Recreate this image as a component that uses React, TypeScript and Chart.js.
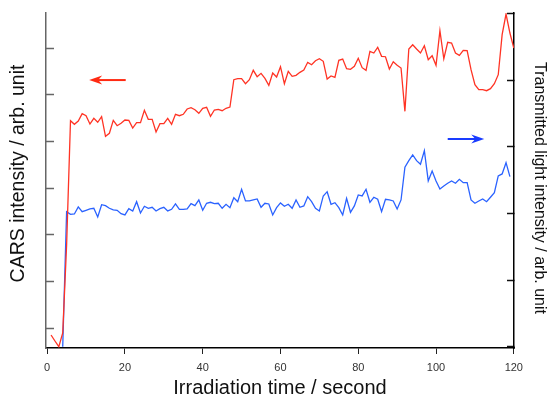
import { useEffect, useRef } from 'react';
import { Chart, registerables } from 'chart.js';

Chart.register(...registerables);

// Irradiation time (s)
const seconds = [
  1, 2, 3, 4, 5, 6, 7, 8, 9, 10, 11, 12, 13, 14, 15, 16, 17, 18, 19, 20,
  21, 22, 23, 24, 25, 26, 27, 28, 29, 30, 31, 32, 33, 34, 35, 36, 37, 38, 39, 40,
  41, 42, 43, 44, 45, 46, 47, 48, 49, 50, 51, 52, 53, 54, 55, 56, 57, 58, 59, 60,
  61, 62, 63, 64, 65, 66, 67, 68, 69, 70, 71, 72, 73, 74, 75, 76, 77, 78, 79, 80,
  81, 82, 83, 84, 85, 86, 87, 88, 89, 90, 91, 92, 93, 94, 95, 96, 97, 98, 99, 100,
  101, 102, 103, 104, 105, 106, 107, 108, 109, 110, 111, 112, 113, 114, 115, 116, 117, 118, 119, 120,
];

// CARS intensity (arb. unit, left axis)
const carsIntensity = [
  0.857, 0.729, 0.606, 0.9, 2.786, 5.449, 5.372, 5.442, 5.599, 5.556,
  5.378, 5.5, 5.415, 5.535, 5.115, 5.179, 5.457, 5.342, 5.393, 5.464,
  5.457, 5.292, 5.406, 5.406, 5.672, 5.479, 5.479, 5.207, 5.385, 5.385,
  5.5, 5.372, 5.586, 5.556, 5.586, 5.7, 5.727, 5.685, 5.608, 5.715,
  5.736, 5.543, 5.678, 5.693, 5.663, 5.715, 5.742, 6.327, 6.349, 6.349,
  6.242, 6.327, 6.529, 6.392, 6.464, 6.357, 6.207, 6.471, 6.385, 6.606,
  6.242, 6.507, 6.4, 6.422, 6.486, 6.535, 6.7, 6.649, 6.735, 6.777,
  6.722, 6.342, 6.407, 6.379, 6.743, 6.771, 6.563, 6.55, 6.614, 6.786,
  6.585, 6.529, 6.936, 6.9, 7.022, 6.829, 6.82, 6.557, 6.713, 6.636,
  6.578, 5.65, 6.985, 7.077, 6.985, 6.9, 7.056, 6.756, 6.842, 6.636,
  7.377, 6.777, 7.129, 7.114, 6.9, 6.85, 6.957, 6.949, 6.542, 6.22,
  6.113, 6.113, 6.092, 6.135, 6.242, 6.435, 7.292, 7.735, 7.328, 7.007,
];

// Transmitted light intensity (arb. unit, right axis)
const transmittedLight = [
  null, null, null, 0.0, 2.025, 1.986, 1.991, 2.096, 2.025, 2.046,
  2.066, 2.076, 1.946, 2.13, 2.115, 2.076, 2.051, 2.046, 1.995, 1.976,
  2.07, 2.036, 2.175, 2.006, 2.106, 2.076, 2.091, 2.036, 2.07, 2.091,
  2.036, 2.061, 2.141, 2.061, 2.061, 2.066, 2.145, 2.115, 2.201, 2.046,
  2.151, 2.166, 2.145, 2.151, 2.076, 2.136, 2.085, 2.235, 2.175, 2.361,
  2.186, 2.186, 2.201, 2.216, 2.091, 2.151, 2.141, 1.976, 2.085, 2.156,
  2.106, 2.136, 2.076, 2.201, 2.091, 2.111, 2.25, 2.175, 2.076, 2.036,
  2.261, 2.325, 2.136, 2.16, 2.085, 1.976, 2.226, 2.016, 2.111, 2.276,
  2.261, 2.361, 2.166, 2.241, 2.211, 2.025, 2.211, 2.201, 2.186, 2.066,
  2.201, 2.691, 2.79, 2.876, 2.79, 2.736, 2.94, 2.486, 2.636, 2.486,
  2.366, 2.411, 2.451, 2.486, 2.451, 2.511, 2.46, 2.46, 2.201, 2.151,
  2.186, 2.216, 2.175, 2.241, 2.31, 2.561, 2.591, 2.76, 2.55, null,
];

const xTicks = [0, 20, 40, 60, 80, 100, 120];
const leftTicks = [1, 2, 3, 4, 5, 6, 7];
const rightTicks = [0, 1, 2, 3, 4, 5];

const xTitle = 'Irradiation time / second';
const leftTitle = 'CARS intensity / arb. unit';
const rightTitle = 'Transmitted light intensity / arb. unit';

const RED = '#ff3324';
const BLUE = '#2a62ff';
const RED_ARROW = '#ff2a12';
const BLUE_ARROW = '#1a3cff';
const FONT = '"Liberation Sans", Arial, sans-serif';

// arrows: [tailTime, tipTime, value, axis]
const redArrow = { from: 20.2, to: 10.8, value: 6.32, axis: 'yL', color: RED_ARROW };
const blueArrow = { from: 103, to: 112.4, value: 3.115, axis: 'yR', color: BLUE_ARROW };

function drawArrow(ctx: CanvasRenderingContext2D, x1: number, x2: number, y: number, color: string) {
  const dir = Math.sign(x2 - x1);
  ctx.save();
  ctx.strokeStyle = color;
  ctx.fillStyle = color;
  ctx.lineWidth = 2;
  ctx.beginPath();
  ctx.moveTo(x1, y);
  ctx.lineTo(x2 - dir * 8, y);
  ctx.stroke();
  ctx.beginPath();
  ctx.moveTo(x2, y);
  ctx.lineTo(x2 - dir * 13, y - 4.5);
  ctx.lineTo(x2 - dir * 9, y);
  ctx.lineTo(x2 - dir * 13, y + 4.5);
  ctx.closePath();
  ctx.fill();
  ctx.restore();
}

const decorPlugin = {
  id: 'decor',
  afterDraw(chart: any) {
    const { ctx, chartArea: a, scales } = chart;
    for (const ar of [redArrow, blueArrow]) {
      const x1 = scales.x.getPixelForValue(ar.from);
      const x2 = scales.x.getPixelForValue(ar.to);
      const y = scales[ar.axis].getPixelForValue(ar.value);
      drawArrow(ctx, x1, x2, y, ar.color);
    }
    ctx.save();
    ctx.fillStyle = '#111';
    ctx.textAlign = 'center';
    ctx.textBaseline = 'alphabetic';
    ctx.font = `20px ${FONT}`;
    ctx.fillText(xTitle, (a.left + a.right) / 2, a.bottom + 46);
    ctx.restore();

    ctx.save();
    ctx.fillStyle = '#111';
    ctx.textAlign = 'center';
    ctx.textBaseline = 'alphabetic';
    ctx.font = `19.5px ${FONT}`;
    ctx.translate(a.left - 22, (a.top + a.bottom) / 2 - 7);
    ctx.rotate(-Math.PI / 2);
    ctx.fillText(leftTitle, 0, 0);
    ctx.restore();

    ctx.save();
    ctx.fillStyle = '#111';
    ctx.textAlign = 'center';
    ctx.textBaseline = 'alphabetic';
    ctx.font = `16px ${FONT}`;
    ctx.translate(a.right + 21, (a.top + a.bottom) / 2 + 7.5);
    ctx.rotate(Math.PI / 2);
    ctx.fillText(rightTitle, 0, 0);
    ctx.restore();
  },
};

export default function App() {
  const ref = useRef<HTMLCanvasElement>(null);
  useEffect(() => {
    const canvas = ref.current;
    if (!canvas) return;
    const chart = new Chart(canvas, {
      type: 'line',
      data: {
        datasets: [
          {
            label: 'CARS intensity',
            data: seconds.map((t, i) => ({ x: t, y: carsIntensity[i] })),
            yAxisID: 'yL',
            borderColor: RED,
            borderWidth: 1.3,
            pointRadius: 0,
            tension: 0,
            fill: false,
          },
          {
            label: 'Transmitted light intensity',
            data: seconds.map((t, i) => ({ x: t, y: transmittedLight[i] })),
            yAxisID: 'yR',
            borderColor: BLUE,
            borderWidth: 1.3,
            pointRadius: 0,
            tension: 0,
            fill: false,
          },
        ],
      },
      options: {
        responsive: false,
        animation: false,
        devicePixelRatio: 1,
        layout: { padding: { top: 13, left: 0, right: 0, bottom: 0 } },
        plugins: { legend: { display: false }, tooltip: { enabled: false } },
        scales: {
          x: {
            type: 'linear',
            min: -0.3,
            max: 120.05,
            afterBuildTicks: (s: any) => {
              s.ticks = xTicks.map((v) => ({ value: v }));
            },
            afterFit: (s: any) => {
              s.height = 49;
            },
            grid: { display: true, drawOnChartArea: false, drawTicks: true, tickLength: 6, tickWidth: 1, tickColor: '#222' },
            border: { display: true, color: '#000', width: 1.5 },
            ticks: { font: { family: FONT, size: 11 }, color: '#333', padding: 7, maxRotation: 0, autoSkip: false },
          },
          yL: {
            type: 'linear',
            position: 'left',
            min: 0.5786,
            max: 7.757,
            afterBuildTicks: (s: any) => {
              s.ticks = leftTicks.map((v) => ({ value: v }));
            },
            afterFit: (s: any) => {
              s.width = 46;
            },
            grid: { display: true, drawOnChartArea: false, drawTicks: true, tickLength: -8, tickWidth: 1.5, tickColor: '#666' },
            border: { display: true, color: '#666', width: 1.5 },
            ticks: { display: false },
          },
          yR: {
            type: 'linear',
            position: 'right',
            min: -0.0195,
            max: 5.005,
            afterBuildTicks: (s: any) => {
              s.ticks = rightTicks.map((v) => ({ value: v }));
            },
            afterFit: (s: any) => {
              s.width = 34;
            },
            grid: { display: true, drawOnChartArea: false, drawTicks: true, tickLength: -7, tickWidth: 1.5, tickColor: '#111' },
            border: { display: true, color: '#000', width: 1.5 },
            ticks: { display: false },
          },
        },
      } as any,
      plugins: [decorPlugin],
    });
    return () => chart.destroy();
  }, []);

  return (
    <div style={{ position: 'absolute', left: 0, top: 0, width: 548, height: 397 }}>
      <canvas ref={ref} width={548} height={397} style={{ display: 'block' }} />
    </div>
  );
}
